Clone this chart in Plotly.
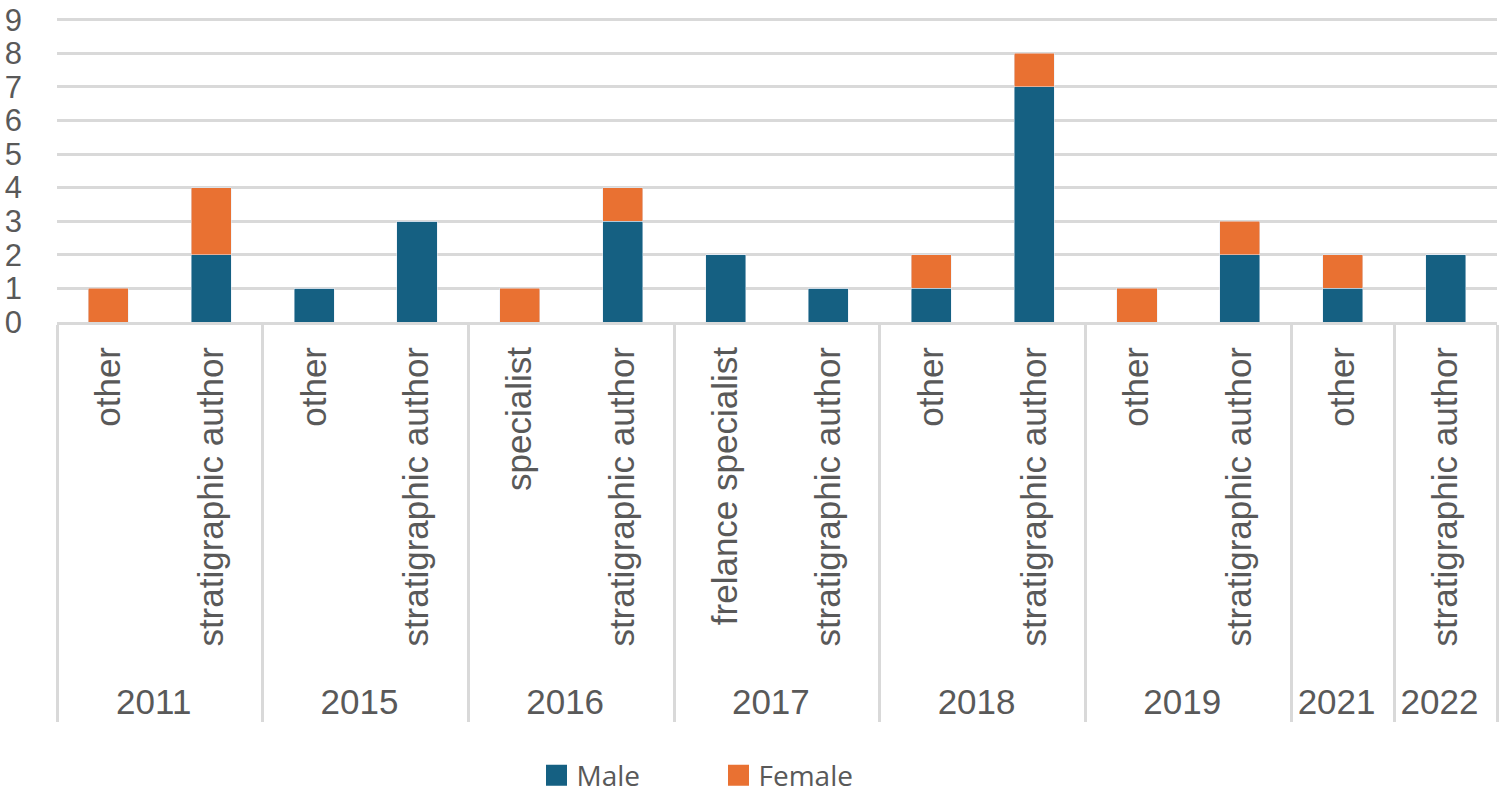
import plotly.graph_objects as go

years = ["2011", "2011", "2015", "2015", "2016", "2016", "2017", "2017",
         "2018", "2018", "2019", "2019", "2021", "2022"]
roles = ["other", "stratigraphic author", "other", "stratigraphic author",
         "specialist", "stratigraphic author", "frelance specialist", "stratigraphic author",
         "other", "stratigraphic author", "other", "stratigraphic author",
         "other", "stratigraphic author"]
male = [0, 2, 1, 3, 0, 3, 2, 1, 1, 7, 0, 2, 1, 2]
female = [1, 2, 0, 0, 1, 1, 0, 0, 1, 1, 1, 1, 1, 0]
y_ticks = list(range(0, 10))

MALE_C = "#156082"
FEMALE_C = "#E97132"
GRAY = "#595959"
GRID = "#D9D9D9"

# plotly orders inner categories by global first appearance; feed the
# non-"stratigraphic author" rows first so each group keeps its original order
order = sorted(range(len(years)), key=lambda i: roles[i] == "stratigraphic author")
# a leading no-break space gives the year row a little more room below the labels
xs = [[years[i] for i in order], ["\u00a0" + roles[i] for i in order]]

fig = go.Figure()
fig.add_trace(go.Bar(x=xs, y=[male[i] for i in order], name="Male", marker_color=MALE_C,
                     showlegend=False))
fig.add_trace(go.Bar(x=xs, y=[female[i] for i in order], name="Female", marker_color=FEMALE_C,
                     showlegend=False))
# legend entries (square swatches)
for nm, c in (("Male", MALE_C), ("Female", FEMALE_C)):
    fig.add_trace(go.Scatter(x=[None], y=[None], name=nm, mode="markers",
                             marker=dict(symbol="square", size=16, color=c,
                                         line=dict(color=c, width=5))))

fig.update_layout(
    barmode="stack",
    bargap=0.61,
    width=1500, height=797,
    margin=dict(l=57, r=3, t=13, b=475),
    plot_bgcolor="white", paper_bgcolor="white",
    showlegend=True,
    legend=dict(orientation="h", xref="container", yref="container",
                x=0.479, y=0.027, xanchor="center", yanchor="middle",
                font=dict(family="Open Sans", size=28, color=GRAY),
                traceorder="normal", itemwidth=30, entrywidth=137),
)
fig.update_yaxes(range=[0, 9.05], tickvals=y_ticks, showgrid=True, gridcolor=GRID, gridwidth=3,
                 zeroline=False, showline=False, ticks="",
                 tickfont=dict(family="Liberation Sans", size=31, color=GRAY),
                 ticklabelstandoff=34, ticklabeloverflow="allow")
fig.update_xaxes(type="multicategory", tickangle=-90, showline=True, linecolor=GRID, linewidth=3,
                 ticks="", showdividers=True, dividercolor=GRID, dividerwidth=3,
                 ticklabelstandoff=8,
                 tickfont=dict(family="Liberation Sans", size=35, color=GRAY))

fig.write_html("out.html", config={"displayModeBar": False},
               post_script="document.body.style.margin='0';document.body.style.overflow='hidden';")
